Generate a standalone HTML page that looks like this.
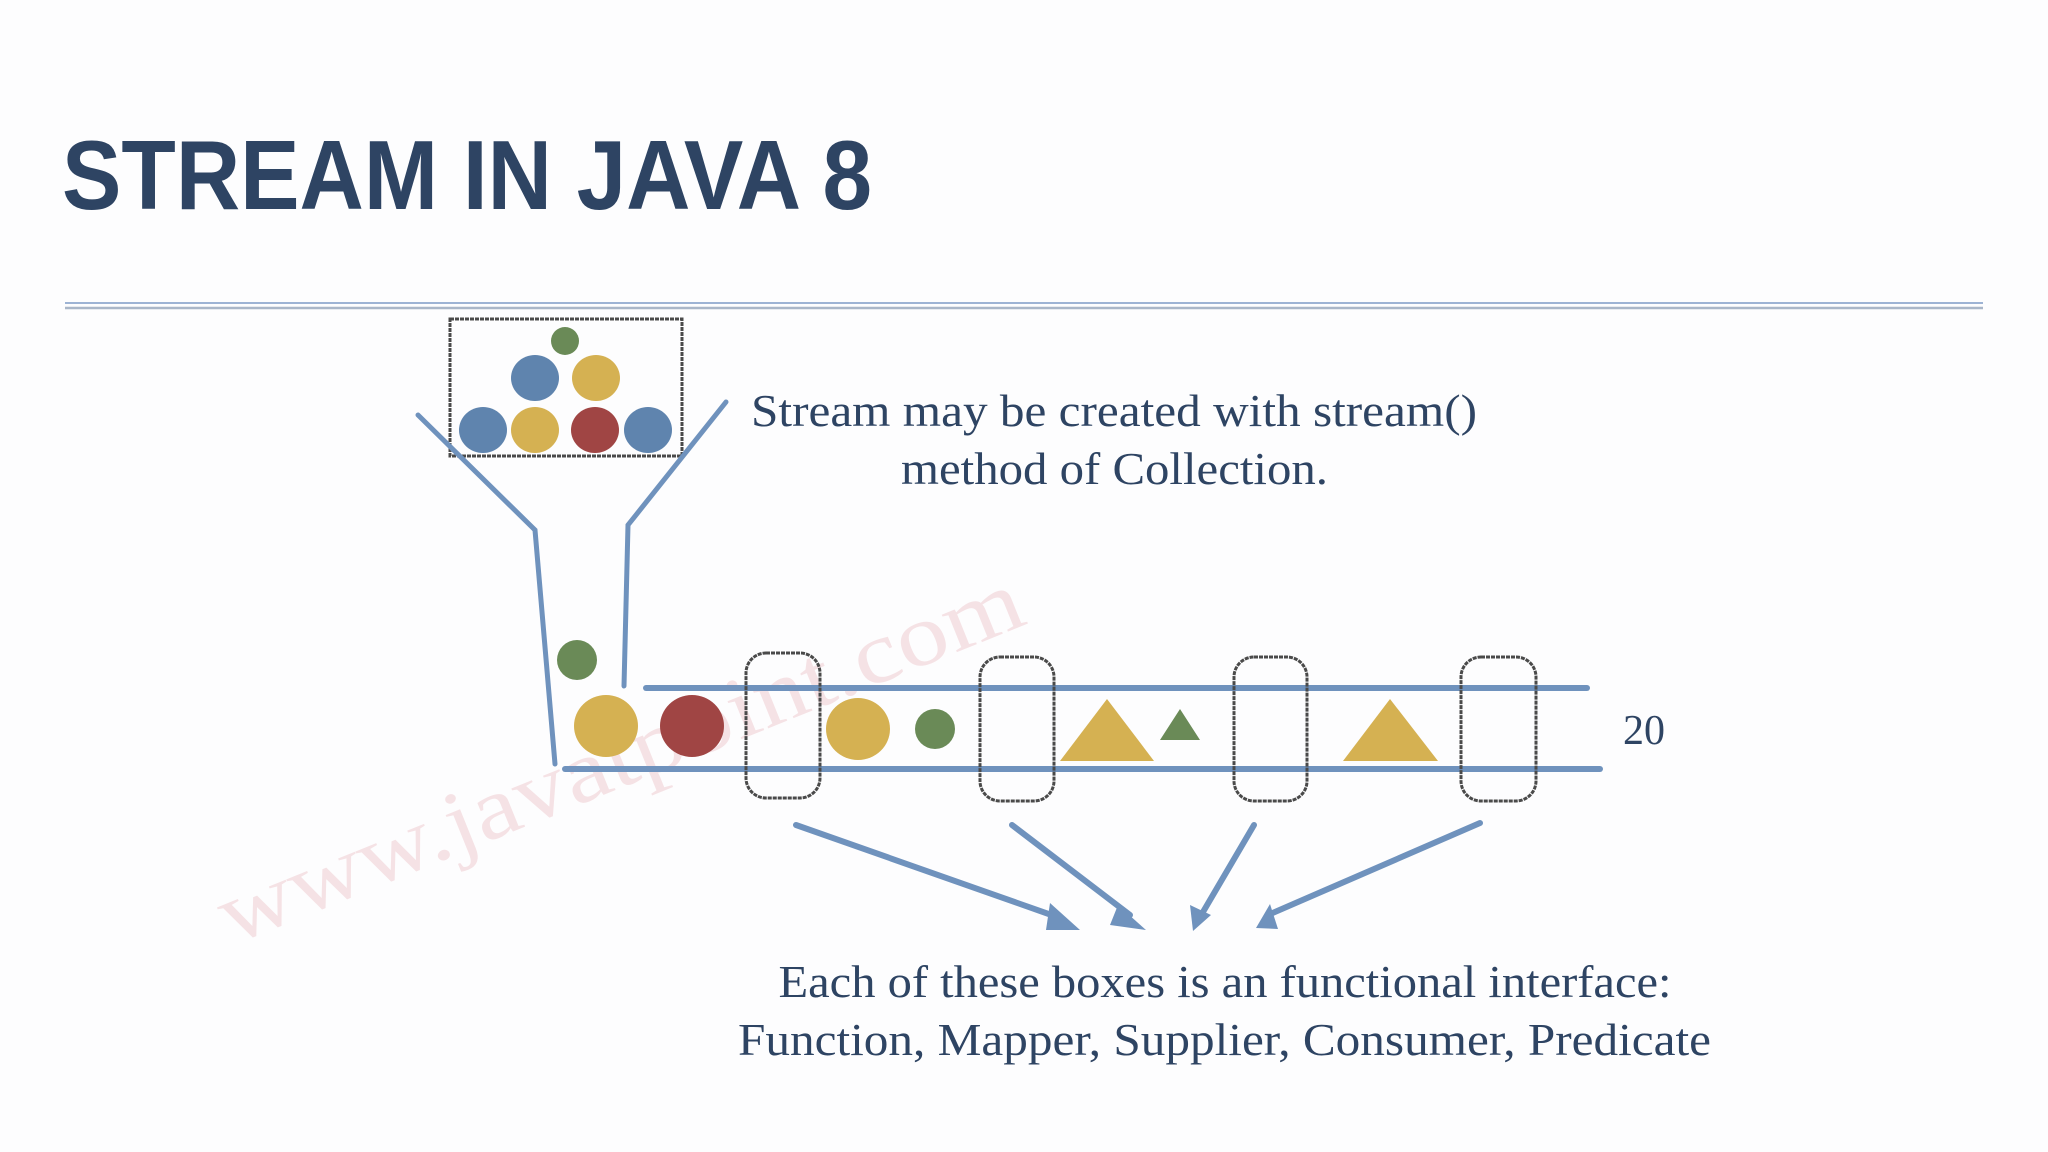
<!DOCTYPE html>
<html><head><meta charset="utf-8"><style>
html,body{margin:0;padding:0;background:#fff;}
svg{display:block}
</style></head><body>
<svg width="2048" height="1152" viewBox="0 0 2048 1152" xmlns="http://www.w3.org/2000/svg">
<rect width="2048" height="1152" fill="#fdfdfe"/>
<text x="62" y="209" font-family="Liberation Sans, sans-serif" font-weight="bold" font-size="98" fill="#2e4463" textLength="810" lengthAdjust="spacingAndGlyphs">STREAM IN JAVA 8</text>
<line x1="65" y1="303" x2="1983" y2="303" stroke="#9db3d4" stroke-width="2"/>
<line x1="65" y1="308" x2="1983" y2="308" stroke="#a9b6c8" stroke-width="2.5"/>
<!-- watermark -->
<text x="0" y="0" transform="translate(232,945) rotate(-22)" font-family="Liberation Serif, serif" font-size="88" fill="#f3dadd" opacity="0.75" textLength="860" lengthAdjust="spacingAndGlyphs">www.javatpoint.com</text>
<!-- top box -->
<rect x="450" y="319" width="232" height="137" fill="none" stroke="#4a4a4a" stroke-width="3" stroke-dasharray="4 1"/>
<circle cx="565" cy="341" r="14" fill="#6a8a57"/>
<ellipse cx="535" cy="378" rx="24" ry="23" fill="#5f84ae"/>
<ellipse cx="596" cy="378" rx="24" ry="23" fill="#d5b152"/>
<ellipse cx="483" cy="430" rx="24" ry="23" fill="#5f84ae"/>
<ellipse cx="535" cy="430" rx="24" ry="23" fill="#d5b152"/>
<ellipse cx="595" cy="430" rx="24" ry="23" fill="#a04544"/>
<ellipse cx="648" cy="430" rx="24" ry="23" fill="#5f84ae"/>
<!-- funnel -->
<g stroke="#6f92bd" stroke-linecap="round" fill="none">
<polyline points="418,415 535,530 555,764" stroke-width="5"/>
<polyline points="726,402 628,525 624,686" stroke-width="5"/>
<line x1="646" y1="688" x2="1587" y2="688" stroke-width="6"/>
<line x1="565" y1="769" x2="1600" y2="769" stroke-width="6"/>
</g>
<ellipse cx="577" cy="660" rx="20" ry="20" fill="#6a8a57"/>
<ellipse cx="606" cy="726" rx="32" ry="31" fill="#d5b152"/>
<ellipse cx="692" cy="726" rx="32" ry="31" fill="#a04544"/>
<ellipse cx="858" cy="729" rx="32" ry="31" fill="#d5b152"/>
<ellipse cx="935" cy="729" rx="20" ry="20" fill="#6a8a57"/>
<polygon points="1107,699 1154,761 1060,761" fill="#d5b152"/>
<polygon points="1180,709 1200,740 1160,740" fill="#6a8a57"/>
<polygon points="1390,699 1438,761 1343,761" fill="#d5b152"/>
<g fill="none" stroke="#4a4a4a" stroke-width="3" stroke-dasharray="4 1">
<rect x="746" y="653" width="74" height="145" rx="20"/>
<rect x="980" y="657" width="74" height="144" rx="20"/>
<rect x="1234" y="657" width="73" height="144" rx="20"/>
<rect x="1461" y="657" width="75" height="144" rx="20"/>
</g>
<text x="1623" y="744" font-family="Liberation Serif, serif" font-size="42" fill="#2e4463">20</text>
<!-- arrows -->
<g stroke="#6f92bd" stroke-width="6" stroke-linecap="round">
<line x1="796" y1="825" x2="1060" y2="918"/>
<line x1="1012" y1="825" x2="1130" y2="915"/>
<line x1="1254" y1="825" x2="1203" y2="912"/>
<line x1="1480" y1="823" x2="1268" y2="915"/>
</g>
<g fill="#6f92bd">
<polygon points="1050,903 1080,930 1046,930"/>
<polygon points="1118,905 1146,930 1110,925"/>
<polygon points="1190,905 1211,915 1193,931"/>
<polygon points="1270,904 1278,929 1256,928"/>
</g>
<g font-family="Liberation Serif, serif" font-size="46" fill="#2e4463">
<text x="751" y="426" textLength="726" lengthAdjust="spacingAndGlyphs">Stream may be created with stream()</text>
<text x="901" y="484" textLength="427" lengthAdjust="spacingAndGlyphs">method of Collection.</text>
<text x="1225" y="997" text-anchor="middle" textLength="893" lengthAdjust="spacingAndGlyphs">Each of these boxes is an functional interface:</text>
<text x="738" y="1055" textLength="973" lengthAdjust="spacingAndGlyphs">Function, Mapper, Supplier, Consumer, Predicate</text>
</g>
</svg>
</body></html>
